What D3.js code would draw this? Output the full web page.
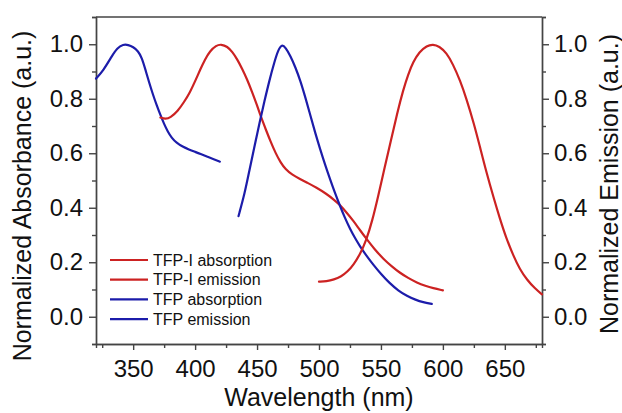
<!DOCTYPE html>
<html>
<head>
<meta charset="utf-8">
<script src="https://cdn.jsdelivr.net/npm/d3@7"></script>
<style>
  html, body { margin: 0; padding: 0; background: #fff; }
  svg { display: block; font-family: "Liberation Sans", Arial, sans-serif; }
</style>
</head>
<body>
<svg id="chart" width="622" height="413"></svg>
<script>
// ---- Data (wavelength nm, normalized value) ----
const tfpAbsorption = [
  [320,0.874],[326,0.904],[333,0.958],[337,0.986],[342,1.0],[346,0.998],[350,0.99],
  [354,0.975],[357,0.951],[360,0.905],[363,0.858],[366,0.815],[369,0.776],[372,0.740],
  [375,0.707],[378,0.679],[381,0.657],[385,0.638],[390,0.624],[395,0.614],[400,0.605],
  [405,0.596],[410,0.587],[415,0.578],[420,0.569]
];
const tfpIAbsorption = [
  [372,0.731],[376,0.725],[380,0.73],[386,0.755],[391,0.787],[396,0.825],[400,0.864],
  [404,0.906],[408,0.945],[412,0.975],[417,0.996],[421,1.0],[426,0.992],[430,0.972],
  [434,0.945],[438,0.91],[442,0.871],[446,0.825],[450,0.776],[453,0.735],[457,0.688],
  [461,0.642],[465,0.6],[469,0.566],[473,0.541],[478,0.522],[485,0.505],[490,0.493],
  [498,0.474],[506,0.451],[512,0.43],[517,0.41],[522,0.384],[528,0.351],[533,0.318],
  [539,0.282],[545,0.247],[552,0.212],[559,0.184],[565,0.162],[572,0.142],[579,0.125],
  [586,0.113],[592,0.105],[600,0.097]
];
const tfpEmission = [
  [435,0.369],[440,0.452],[444,0.541],[448,0.627],[452,0.712],[456,0.792],[460,0.868],
  [464,0.935],[467,0.978],[470,1.0],[473,0.988],[477,0.957],[481,0.915],[485,0.866],
  [489,0.805],[493,0.739],[497,0.674],[501,0.614],[505,0.557],[509,0.504],[513,0.453],
  [517,0.406],[521,0.362],[525,0.323],[529,0.289],[533,0.259],[538,0.226],[544,0.19],
  [550,0.157],[557,0.123],[564,0.096],[571,0.076],[578,0.062],[584,0.053],[591,0.047]
];
const tfpIEmission = [
  [500,0.129],[506,0.13],[512,0.136],[518,0.148],[523,0.165],[528,0.192],[533,0.228],
  [538,0.278],[543,0.352],[548,0.447],[553,0.548],[558,0.645],[563,0.745],[568,0.833],
  [572,0.89],[576,0.935],[581,0.972],[587,0.995],[592,1.0],[597,0.993],[603,0.968],
  [608,0.928],[614,0.866],[619,0.8],[625,0.71],[630,0.622],[635,0.532],[641,0.436],
  [646,0.36],[651,0.29],[657,0.223],[662,0.175],[668,0.135],[674,0.105],[680,0.082]
];
const legendLabels = ["TFP-I absorption","TFP-I emission","TFP absorption","TFP emission"];
const xMajorTicks = [350,400,450,500,550,600,650];
const xMinorTicks = [325,375,425,475,525,575,625,675];
const yMajorTicks = [0.0,0.2,0.4,0.6,0.8,1.0];
const yMinorTicks = [-0.1,0.1,0.3,0.5,0.7,0.9,1.1];

// ---- Layout ----
const RED = "#cc2222", BLUE = "#1c1caa", AXIS = "#444";
const pLeft = 96, pRight = 542, pTop = 17, pBottom = 344;
const svg = d3.select("#chart");

const x = d3.scaleLinear().domain([320, 680]).range([pLeft, pRight]);
const yL = d3.scaleLinear().domain([-0.1, 1.1]).range([pBottom, pTop]);
const yR = d3.scaleLinear().domain([-0.1, 1.1]).range([pBottom, pTop]);

const fmt = d3.format(".1f");

function styleAxis(g) {
  g.selectAll("path.domain").attr("stroke", AXIS).attr("stroke-width", 1.4);
  g.selectAll(".tick line").attr("stroke", AXIS).attr("stroke-width", 1.4);
  g.selectAll(".tick text").attr("fill", "#111").style("font-size", "24px")
    .style("font-family", "'Liberation Sans', Arial, sans-serif");
}

// top frame line
svg.append("line").attr("x1", pLeft).attr("x2", pRight).attr("y1", pTop).attr("y2", pTop)
  .attr("stroke", AXIS).attr("stroke-width", 1.4);

// bottom axis
const gxMinor = svg.append("g").attr("transform", `translate(0,${pBottom})`)
  .call(d3.axisBottom(x).tickValues(xMinorTicks).tickSize(4).tickFormat(""));
styleAxis(gxMinor);
const gx = svg.append("g").attr("transform", `translate(0,${pBottom})`)
  .call(d3.axisBottom(x).tickValues(xMajorTicks).tickSize(6).tickPadding(10).tickSizeOuter(0));
styleAxis(gx);

// left axis
const gyLMinor = svg.append("g").attr("transform", `translate(${pLeft},0)`)
  .call(d3.axisLeft(yL).tickValues(yMinorTicks).tickSize(4).tickFormat(""));
styleAxis(gyLMinor);
const gyL = svg.append("g").attr("transform", `translate(${pLeft},0)`)
  .call(d3.axisLeft(yL).tickValues(yMajorTicks).tickFormat(fmt).tickSize(7).tickPadding(6).tickSizeOuter(0));
styleAxis(gyL);

// right axis
const gyRMinor = svg.append("g").attr("transform", `translate(${pRight},0)`)
  .call(d3.axisRight(yR).tickValues(yMinorTicks).tickSize(4).tickFormat(""));
styleAxis(gyRMinor);
const gyR = svg.append("g").attr("transform", `translate(${pRight},0)`)
  .call(d3.axisRight(yR).tickValues(yMajorTicks).tickFormat(fmt).tickSize(7).tickPadding(5).tickSizeOuter(0));
styleAxis(gyR);

// axis titles
svg.append("text").attr("x", (pLeft + pRight) / 2).attr("y", 406)
  .attr("text-anchor", "middle").style("font-size", "25px").attr("fill", "#111")
  .text("Wavelength (nm)");
svg.append("text").attr("transform", "translate(31,196) rotate(-90)")
  .attr("text-anchor", "middle").style("font-size", "25px").attr("fill", "#111")
  .text("Normalized Absorbance (a.u.)");
svg.append("text").attr("transform", "translate(618,184) rotate(-90)")
  .attr("text-anchor", "middle").style("font-size", "25px").attr("fill", "#111")
  .text("Normalized Emission (a.u.)");

// curves
const lineL = d3.line().x(d => x(d[0])).y(d => yL(d[1])).curve(d3.curveBasis);
const lineR = d3.line().x(d => x(d[0])).y(d => yR(d[1])).curve(d3.curveBasis);

const series = [
  { data: tfpAbsorption, color: BLUE, line: lineL },
  { data: tfpIAbsorption, color: RED, line: lineL },
  { data: tfpEmission, color: BLUE, line: lineR },
  { data: tfpIEmission, color: RED, line: lineR }
];
series.forEach(s => {
  svg.append("path").datum(s.data).attr("d", s.line)
    .attr("fill", "none").attr("stroke", s.color).attr("stroke-width", 2.2)
    .attr("stroke-linejoin", "round").attr("stroke-linecap", "round");
});

// legend
const legendColors = [RED, RED, BLUE, BLUE];
const lg = svg.append("g");
legendLabels.forEach((lab, i) => {
  const yy = 260 + i * 19.7;
  lg.append("line").attr("x1", 110).attr("x2", 148).attr("y1", yy).attr("y2", yy)
    .attr("stroke", legendColors[i]).attr("stroke-width", 2.2);
  lg.append("text").attr("x", 153).attr("y", yy + 5.7).style("font-size", "16px")
    .attr("fill", "#111").text(lab);
});
</script>
</body>
</html>
